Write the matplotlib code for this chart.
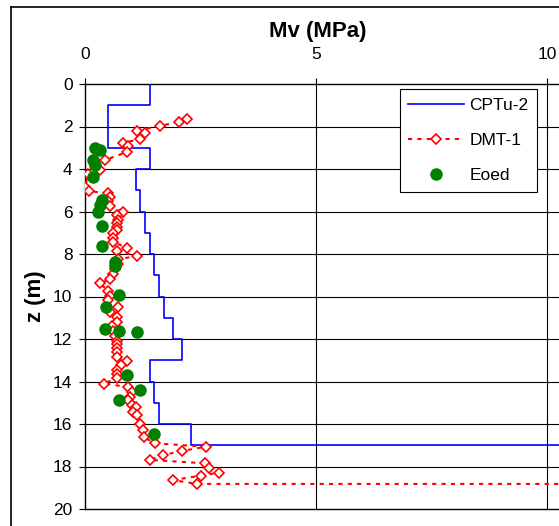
import numpy as np
import matplotlib.pyplot as plt
from matplotlib.lines import Line2D

plt.rcParams['font.family'] = ['Liberation Sans', 'DejaVu Sans']

# CPTu-2 layered profile (layer boundaries in m, Mv in MPa per layer)
cptu_bounds = [0, 1, 3, 4, 5, 6, 7, 8, 9, 10, 11, 12, 13, 14, 15, 16, 17, 17]
cptu_mv = [1.4, 0.5, 1.4, 1.1, 1.2, 1.3, 1.4, 1.5, 1.6, 1.7, 1.9, 2.1,
           1.4, 1.5, 1.6, 2.3, 12.0]

# DMT-1
dmt_z = [1.66, 1.77, 1.98, 2.19, 2.31, 2.60, 2.76, 2.92, 3.21, 3.58,
         4.05, 4.25, 4.83, 5.04, 5.15, 5.30, 5.49, 5.74, 6.01, 6.16,
         6.40, 6.56, 6.71, 6.87, 7.02, 7.23, 7.44, 7.70, 7.86, 8.09,
         8.25, 8.47, 8.72, 8.95, 9.19, 9.38, 9.73, 9.97, 10.16, 10.48,
         10.75, 10.98, 11.22, 11.38, 11.61, 11.85, 12.08, 12.24, 12.42, 12.61,
         12.85, 13.05, 13.24, 13.47, 13.63, 13.84, 14.10, 14.26, 14.49, 14.73,
         14.89, 15.11, 15.22, 15.42, 15.58, 16.00, 16.28, 16.63, 16.91, 17.07,
         17.27, 17.46, 17.69, 17.85, 18.08, 18.29, 18.43, 18.64, 18.82, 18.82]
dmt_mv = [2.21, 2.03, 1.62, 1.12, 1.30, 1.19, 0.82, 0.94, 0.90, 0.43,
          0.32, 0.07, 0.00, 0.09, 0.50, 0.54, 0.50, 0.54, 0.83, 0.69,
          0.72, 0.69, 0.69, 0.69, 0.61, 0.61, 0.61, 0.90, 0.70, 1.12,
          0.72, 0.72, 0.65, 0.61, 0.54, 0.32, 0.50, 0.54, 0.50, 0.72,
          0.54, 0.69, 0.69, 0.58, 0.61, 0.65, 0.69, 0.69, 0.69, 0.69,
          0.69, 0.90, 0.79, 0.69, 0.69, 0.69, 0.41, 0.94, 1.01, 0.97,
          0.94, 1.01, 1.10, 1.04, 1.12, 1.19, 1.25, 1.28, 1.52, 2.62,
          2.09, 1.69, 1.41, 2.60, 2.69, 2.91, 2.50, 1.91, 2.42, 12.0]

# Eoed (oedometer)
eoed_z = [3.03, 3.10, 3.58, 3.81, 4.36, 5.46, 5.69, 6.01, 6.67, 7.61,
          8.36, 8.56, 9.93, 10.51, 11.52, 11.62, 11.66, 13.69, 14.40, 14.87, 16.47]
eoed_mv = [0.22, 0.32, 0.18, 0.22, 0.18, 0.36, 0.32, 0.29, 0.36, 0.36,
           0.66, 0.65, 0.74, 0.45, 0.43, 0.74, 1.12, 0.90, 1.18, 0.74, 1.49]

# build step path for CPTu
cx = np.repeat(cptu_mv, 2)
cz = np.column_stack([cptu_bounds[:-1], cptu_bounds[1:]]).ravel()

W, H = 559, 526
fig = plt.figure(figsize=(W / 100, H / 100), dpi=100)
ax = fig.add_axes([85 / W, 1 - 509 / H, 1 - 85 / W, (509 - 84) / H])

ax.plot(cx, cz, color='#0000FF', lw=1.2, label='CPTu-2', zorder=3)
ax.plot(dmt_mv, dmt_z, color='red', lw=1.5, ls=(0, (2, 2.5)),
        marker='D', ms=5, mfc='white', mec='red', mew=1.2,
        label='DMT-1', zorder=4)
ax.plot(eoed_mv, eoed_z, 'o', color='#008000', ms=8, mec='#008000',
        label='Eoed', zorder=5)

ax.set_xlim(0, 10 + 12 / 46.2)
ax.set_ylim(20, 0)
ax.set_xticks([0, 5, 10])
ax.set_yticks(np.arange(0, 21, 2))
ax.xaxis.tick_top()
ax.tick_params(axis='both', labelsize=12.5, direction='out', length=4,
               width=0.8, color='black')
ax.tick_params(axis='x', pad=12)
ax.tick_params(axis='y', pad=5)

for z in range(2, 20, 2):
    ax.axhline(z, color='black', lw=0.8, zorder=1)
for x in (5, 10):
    ax.axvline(x, color='black', lw=0.8, zorder=1)

ax.spines['right'].set_visible(False)
for s in ('left', 'top', 'bottom'):
    ax.spines[s].set_linewidth(1.0)

fig.text(318 / W, 1 - 32 / H, 'Mv (MPa)', fontsize=16, fontweight='bold',
         ha='center', va='center')
fig.text(35 / W, 1 - 296 / H, 'z (m)', fontsize=16, fontweight='bold',
         ha='center', va='center', rotation=90)

leg = ax.legend(loc='upper right', bbox_to_anchor=(537 / W, 1 - 89 / H),
                bbox_transform=fig.transFigure, fontsize=12.5, frameon=True,
                fancybox=False, edgecolor='black', framealpha=1,
                labelspacing=1.15, handlelength=3.2, borderpad=0.5,
                borderaxespad=0, handletextpad=0.3)
leg.get_frame().set_linewidth(0.8)

# outer chart frame (left and top edges visible)
fig.add_artist(Line2D([11 / W, 11 / W], [0, 1 - 7 / H], transform=fig.transFigure,
                      color='black', lw=1.2))
fig.add_artist(Line2D([11 / W, 1], [1 - 7 / H, 1 - 7 / H], transform=fig.transFigure,
                      color='black', lw=1.2))

fig.savefig('out.png', dpi=100)
